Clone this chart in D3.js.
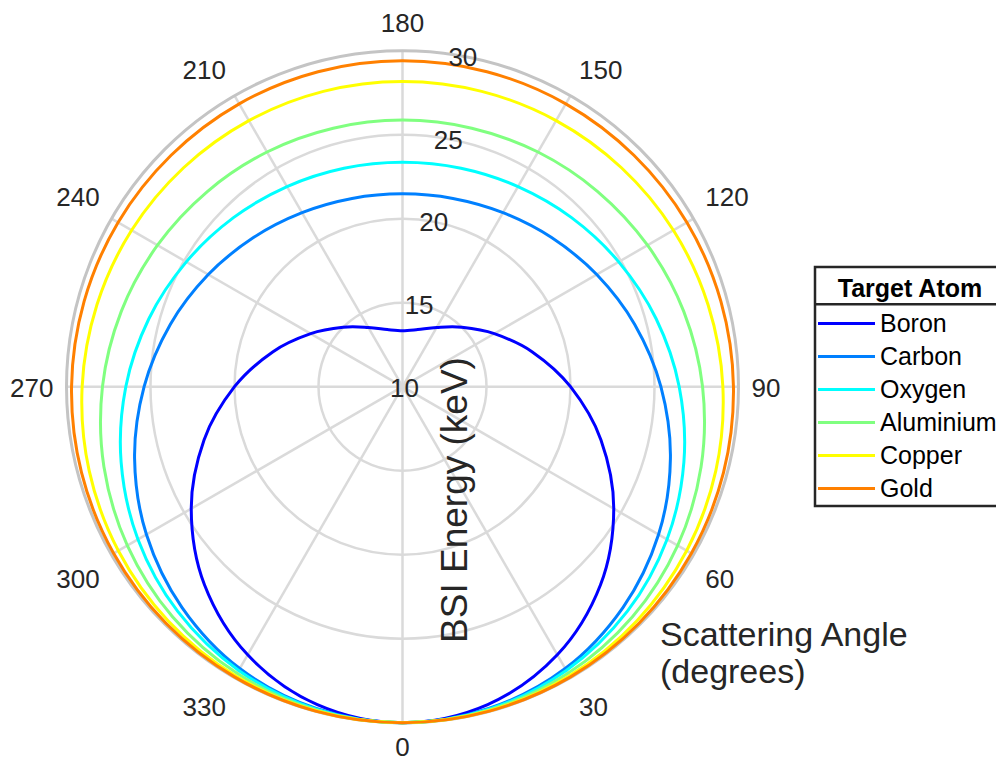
<!DOCTYPE html>
<html><head><meta charset="utf-8">
<script src="https://cdn.jsdelivr.net/npm/d3@7"></script>
<style>body{margin:0;background:#fff} text{font-family:"Liberation Sans",Arial,Helvetica,sans-serif;fill:#262626}</style>
</head><body><svg id="c" width="996" height="764"></svg>
<script>
// Scattering angle (degrees)
const angles=[0,15,30,45,60,75,90,105,120,135,150,165,180,195,210,225,240,255,270,285,300,315,330,345];
// BSI energy (keV) per target atom
const boron    =[30,29.59,28.43,26.67,24.52,22.23,20.00,18.00,16.31,15.00,14.07,13.52,13.33,13.52,14.07,15.00,16.31,18.00,20.00,22.23,24.52,26.67,28.43,29.59];
const carbon   =[30,29.83,29.37,28.57,27.60,26.51,25.38,24.31,23.35,22.55,21.96,21.60,21.48,21.60,21.96,22.55,23.35,24.31,25.38,26.51,27.60,28.57,29.37,29.83];
const oxygen   =[30,29.87,29.50,28.92,28.18,27.34,26.47,25.63,24.86,24.23,23.75,23.46,23.36,23.46,23.75,24.23,24.86,25.63,26.47,27.34,28.18,28.92,29.50,29.87];
const aluminium=[30,29.92,29.70,29.36,28.91,28.40,27.86,27.33,26.84,26.43,26.13,25.93,25.87,25.93,26.13,26.43,26.84,27.33,27.86,28.40,28.91,29.36,29.70,29.92];
const copper   =[30,29.97,29.87,29.72,29.53,29.31,29.07,28.83,28.62,28.43,28.29,28.20,28.17,28.20,28.29,28.43,28.62,28.83,29.07,29.31,29.53,29.72,29.87,29.97];
const gold     =[30,29.99,29.96,29.91,29.85,29.78,29.70,29.62,29.55,29.48,29.44,29.41,29.40,29.41,29.44,29.48,29.55,29.62,29.70,29.78,29.85,29.91,29.96,29.99];
const seriesNames=["Boron","Carbon","Oxygen","Aluminium","Copper","Gold"];
const seriesValues=[boron,carbon,oxygen,aluminium,copper,gold];
const colors=["#0000ff","#0080ff","#00ffff","#80ff80","#ffff00","#ff8000"];
const thetaTicks=[0,30,60,90,120,150,180,210,240,270,300,330];
const rTicks=[10,15,20,25,30];
const legendTitle="Target Atom";
const thetaLabel=["Scattering Angle","(degrees)"];
const rLabel="BSI Energy (keV)";

const svg=d3.select("#c");
svg.append("rect").attr("width",996).attr("height",764).attr("fill","#fff");
const cx=402.5, cy=386.7, R=336;
const r=d3.scaleLinear().domain([10,30]).range([0,R]);
// theta 0 at bottom, increasing counter-clockwise (bottom -> right -> top)
const a=d3.scaleLinear().domain([0,360]).range([Math.PI,-Math.PI]);
const g=svg.append("g").attr("transform",`translate(${cx},${cy})`);
const pt=(deg,rad)=>[rad*Math.sin(a(deg)),-rad*Math.cos(a(deg))];

// grid
const grid=g.append("g");
thetaTicks.forEach(t=>{
  const p=pt(t,R);
  grid.append("line").attr("x1",0).attr("y1",0).attr("x2",p[0]).attr("y2",p[1])
    .attr("stroke","#dadada").attr("stroke-width",2.5);
});
rTicks.slice(1,-1).forEach(v=>{
  grid.append("circle").attr("r",r(v)).attr("fill","none").attr("stroke","#dadada").attr("stroke-width",2.5);
});
grid.append("circle").attr("r",r(30)).attr("fill","none").attr("stroke","#c4c4c4").attr("stroke-width",3);

// data
const line=d3.lineRadial().angle(d=>a(d[0])).radius(d=>r(d[1])).curve(d3.curveCardinalClosed.tension(0));
seriesValues.forEach((vals,i)=>{
  g.append("path").datum(angles.map((t,j)=>[t,vals[j]])).attr("d",line)
    .attr("fill","none").attr("stroke",colors[i]).attr("stroke-width",3);
});

// theta tick labels (box corner aligned to a circle just outside the axis)
thetaTicks.forEach(t=>{
  const txt=g.append("text").attr("font-size",26).attr("text-anchor","middle").attr("dy","0.35em").text(t);
  const w=txt.node().getComputedTextLength();
  const p=pt(t,R+13);
  const s=Math.sin(a(t)), c=-Math.cos(a(t));
  const sx=Math.abs(s)<0.01?0:Math.sign(s), sy=Math.abs(c)<0.01?0:Math.sign(c);
  const hw=w/2+(1-Math.abs(s))*4;
  let y=p[1]+sy*16.5+1.5;
  y=Math.min(y,764-cy-17);
  txt.attr("x",p[0]+sx*hw).attr("y",y);
});
// r tick labels along 170 deg
rTicks.forEach(v=>{
  const p=pt(170,r(v));
  g.append("text").attr("font-size",26).attr("text-anchor","middle").attr("dy","0.35em")
    .attr("x",p[0]+2).attr("y",p[1]+1).text(v);
});

// axis labels
svg.append("text").attr("x",660).attr("y",646).attr("font-size",34).text(thetaLabel[0]);
svg.append("text").attr("x",660).attr("y",683).attr("font-size",34).text(thetaLabel[1]);
svg.append("text").attr("transform","translate(467,500) rotate(-90)").attr("text-anchor","middle")
  .attr("font-size",37).text(rLabel);

// legend
const lg=svg.append("g");
lg.append("rect").attr("x",815).attr("y",267).attr("width",190).attr("height",239)
  .attr("fill","#fff").attr("stroke","#262626").attr("stroke-width",2.5);
lg.append("line").attr("x1",815).attr("x2",1005).attr("y1",304.3).attr("y2",304.3).attr("stroke","#262626").attr("stroke-width",2.5);
lg.append("text").attr("x",910).attr("y",288).attr("dy","0.35em").attr("text-anchor","middle")
  .attr("font-size",25).attr("font-weight","bold").style("fill","#000").text(legendTitle);
seriesNames.forEach((n,i)=>{
  const y=323.5+i*33;
  lg.append("line").attr("x1",818).attr("x2",875).attr("y1",y).attr("y2",y).attr("stroke",colors[i]).attr("stroke-width",3);
  lg.append("text").attr("x",880).attr("y",y).attr("dy","0.35em").attr("font-size",25).style("fill","#000").text(n);
});
</script></body></html>
